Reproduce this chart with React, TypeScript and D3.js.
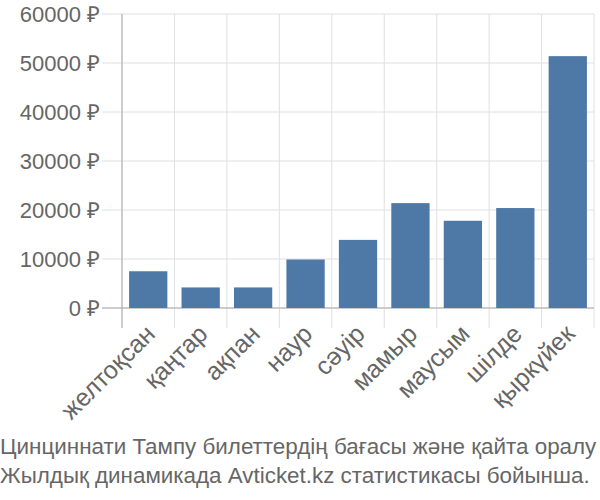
import { useEffect, useRef } from "react"
import * as d3 from "d3"

const months = ["желтоқсан", "қаңтар", "ақпан", "наур", "сәуір", "мамыр", "маусым", "шілде", "қыркүйек"]
const prices = [7500, 4200, 4200, 9900, 13900, 21400, 17800, 20400, 51400]
const yTicks = [0, 10000, 20000, 30000, 40000, 50000, 60000]
const titleLines = [
  "Цинциннати Тампу билеттердің бағасы және қайта оралу",
  "Жылдық динамикада Avticket.kz статистикасы бойынша.",
]

const App = () => {
  const svgRef = useRef<SVGSVGElement>(null)

  useEffect(() => {
    if (!svgRef.current) return
    const svg = d3.select(svgRef.current)
    svg.selectAll("*").remove()

    const margin = { top: 14, right: 6, bottom: 192, left: 122 }
    const width = 600
    const height = 500
    const innerWidth = width - margin.left - margin.right
    const innerHeight = height - margin.top - margin.bottom

    const g = svg.append("g").attr("transform", `translate(${margin.left},${margin.top})`)

    const x = d3.scaleBand().domain(months).range([0, innerWidth]).paddingInner(0.27).paddingOuter(0.135)
    const y = d3.scaleLinear().domain([0, 60000]).range([innerHeight, 0])

    const step = innerWidth / months.length

    // horizontal grid lines
    g.selectAll(".hgrid")
      .data(yTicks)
      .enter()
      .append("line")
      .attr("x1", -20)
      .attr("x2", innerWidth)
      .attr("y1", (d) => y(d))
      .attr("y2", (d) => y(d))
      .attr("stroke", "#e0e0e0")
      .attr("stroke-width", 1)

    // vertical grid lines
    d3.range(months.length + 1).forEach((i) => {
      g.append("line")
        .attr("x1", i * step)
        .attr("x2", i * step)
        .attr("y1", 0)
        .attr("y2", innerHeight + 20)
        .attr("stroke", "#e0e0e0")
        .attr("stroke-width", 1)
    })

    // axis lines
    g.append("line")
      .attr("x1", 0)
      .attr("x2", 0)
      .attr("y1", 0)
      .attr("y2", innerHeight + 20)
      .attr("stroke", "#aaa")
    g.append("line")
      .attr("x1", -20)
      .attr("x2", innerWidth)
      .attr("y1", innerHeight)
      .attr("y2", innerHeight)
      .attr("stroke", "#aaa")

    // bars
    g.selectAll(".bar")
      .data(prices)
      .enter()
      .append("rect")
      .attr("x", (_, i) => x(months[i]) || 0)
      .attr("y", (d) => y(d))
      .attr("width", x.bandwidth())
      .attr("height", (d) => innerHeight - y(d))
      .attr("fill", "#4e79a7")

    // y tick labels
    g.selectAll(".ylab")
      .data(yTicks)
      .enter()
      .append("text")
      .attr("x", -22)
      .attr("y", (d) => y(d))
      .attr("dy", "0.36em")
      .attr("text-anchor", "end")
      .attr("font-size", "22px")
      .attr("fill", "#666")
      .text((d) => `${d} ₽`)

    // x tick labels
    months.forEach((m) => {
      const cx = (x(m) || 0) + x.bandwidth() / 2
      g.append("text")
        .attr("transform", `translate(${cx - 4},${innerHeight + 15}) rotate(-45)`)
        .attr("text-anchor", "end")
        .attr("dy", "0.7em")
        .attr("font-size", "25px")
        .attr("fill", "#666")
        .text(m)
    })

    // title
    titleLines.forEach((t, i) => {
      svg.append("text")
        .attr("x", 0)
        .attr("y", 454 + i * 29)
        .attr("font-size", "22.4px")
        .attr("font-family", "'Liberation Sans Narrow', 'Liberation Sans', sans-serif")
        .attr("fill", "#666")
        .text(t)
    })
  }, [])

  return (
    <svg
      ref={svgRef}
      width={600}
      height={500}
      style={{ position: "absolute", left: 0, top: 0, fontFamily: "'Liberation Sans', Arial, sans-serif" }}
    ></svg>
  )
}

export default App
